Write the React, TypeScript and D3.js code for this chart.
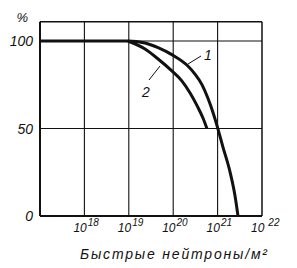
import React from "react";
import * as d3 from "d3";

const W = 297;
const H = 268;

// fluence (neutrons/m^2) and retained property (%)
const curve1Flux = [1e17, 9.55e18, 2.32e19, 4.57e19, 9.33e19, 2.14e20, 3.09e20, 4.47e20, 6.03e20, 7.94e20, 9.77e20, 1.32e21, 1.91e21, 2.45e21, 2.88e21];
const curve1Val = [100, 100, 98.9, 96.2, 92.2, 85.7, 81.1, 74.9, 67.4, 58.9, 51.4, 39.4, 25.1, 12, 0];
const curve2Flux = [9.55e18, 2.32e19, 4.57e19, 9.33e19, 1.58e20, 2.4e20, 3.47e20, 4.68e20, 5.75e20];
const curve2Val = [100, 95.4, 89.7, 82.9, 77.1, 70.3, 62.9, 56, 50];

const xTicks = [1e18, 1e19, 1e20, 1e21, 1e22];
const xTickExp = ["18", "19", "20", "21", "22"];
const yTicks = [0, 50, 100];
const yTickLabels = ["0", "50", "100"];

const FONT = "'Liberation Sans', 'DejaVu Sans', sans-serif";
const INK = "#111";

export default function App() {
  const x = d3.scaleLog().domain([1e17, 1e22]).range([40, 262]);
  const y = d3.scaleLinear().domain([0, 100]).range([216, 41]);
  const yTop = y(111);

  const line = d3
    .line<[number, number]>()
    .x((d) => x(d[0]))
    .y((d) => y(d[1]))
    .curve(d3.curveMonotoneX);

  const c1 = line(curve1Flux.map((f, i) => [f, curve1Val[i]] as [number, number])) || "";
  const c2 = line(curve2Flux.map((f, i) => [f, curve2Val[i]] as [number, number])) || "";

  return (
    <svg
      width={W}
      height={H}
      style={{ position: "absolute", left: 0, top: 0, background: "#fff" }}
      fontFamily={FONT}
    >
      <rect x={0} y={0} width={W} height={H} fill="#fff" />
      {/* grid: vertical */}
      {xTicks.slice(0, 4).map((t) => (
        <line key={"v" + t} x1={x(t)} x2={x(t)} y1={yTop} y2={y(0)} stroke={INK} strokeWidth={1.1} />
      ))}
      {/* grid: horizontal */}
      {yTicks.slice(1).map((t) => (
        <line key={"h" + t} x1={x(1e17)} x2={x(1e22)} y1={y(t)} y2={y(t)} stroke={INK} strokeWidth={1.1} />
      ))}
      {/* frame */}
      <line x1={x(1e17)} x2={x(1e22)} y1={yTop} y2={yTop} stroke={INK} strokeWidth={1.5} />
      <line x1={x(1e22)} x2={x(1e22)} y1={yTop} y2={y(0)} stroke={INK} strokeWidth={1.5} />
      <line x1={x(1e17)} x2={x(1e17)} y1={yTop} y2={y(0)} stroke={INK} strokeWidth={2} />
      <line x1={x(1e17)} x2={x(1e22)} y1={y(0)} y2={y(0)} stroke={INK} strokeWidth={2} />

      {/* curves */}
      <path d={c1} fill="none" stroke={INK} strokeWidth={3} />
      <path d={c2} fill="none" stroke={INK} strokeWidth={3} />

      {/* curve labels */}
      <line x1={188} y1={64} x2={201} y2={56} stroke={INK} strokeWidth={1} />
      <text x={204} y={60} fontSize={14} fontStyle="italic" fill={INK}>1</text>
      <line x1={149} y1={80} x2={160} y2={66} stroke={INK} strokeWidth={1} />
      <text x={142} y={97} fontSize={14} fontStyle="italic" fill={INK}>2</text>

      {/* y tick labels */}
      {yTicks.map((t, i) => (
        <text
          key={"yl" + t}
          x={33}
          y={y(t) + 5}
          textAnchor="end"
          fontSize={14}
          fontStyle="italic"
          fill={INK}
        >
          {yTickLabels[i]}
        </text>
      ))}
      <text x={28} y={22} textAnchor="end" fontSize={13} fontStyle="italic" fill={INK}>%</text>

      {/* x tick labels */}
      {xTicks.map((t, i) => (
        <text key={"xl" + t} x={x(t) - 11} y={232} fontSize={12} fontStyle="italic" fill={INK}>
          10
          <tspan dx={i === 4 ? 4 : 1} dy={-6} fontSize={10}>
            {xTickExp[i]}
          </tspan>
        </text>
      ))}

      {/* axis title */}
      <text
        x={80}
        y={259}
        fontSize={14}
        fontStyle="italic"
        fill={INK}
        textLength={187}
        lengthAdjust="spacing"
      >
        Быстрые нейтроны/м²
      </text>
    </svg>
  );
}
